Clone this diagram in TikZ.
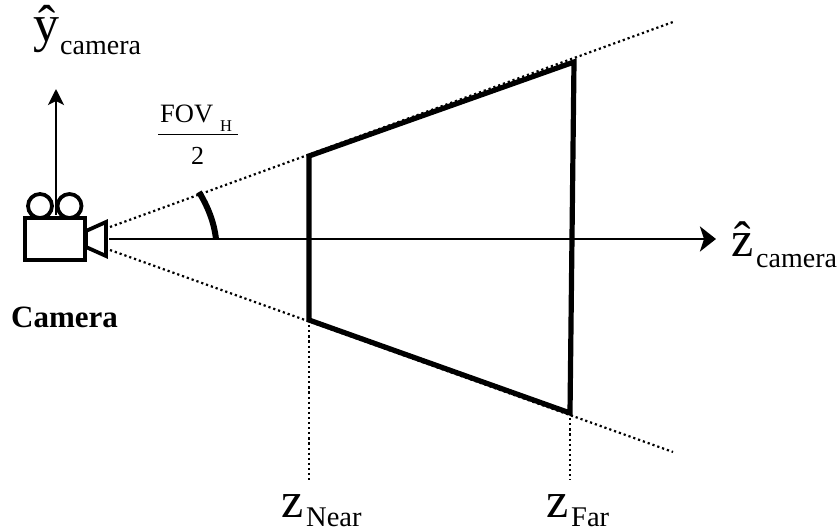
\documentclass[tikz,border=0pt]{standalone}
\usepackage{fontspec}
\setmainfont{Liberation Serif}
\usetikzlibrary{arrows.meta}
\tikzset{
  outline/.style={draw=black,line width=3.8pt},
  frustum/.style={draw=black,line width=5.2pt,line join=miter},
  ray/.style={draw=black,line width=2.2pt,dash pattern=on 2.2pt off 2.9pt},
  axisy/.style={draw=black,line width=2.8pt,-{Stealth[length=16pt,width=16pt,inset=4pt]}},
  axisz/.style={draw=black,line width=2.8pt,-{Stealth[length=16pt,width=25pt,inset=4pt]}},
  lbl/.style={inner sep=0pt,text=black,anchor=base west},
}
\begin{document}
\begin{tikzpicture}[x=1pt,y=-1pt]
\useasboundingbox (0,0) rectangle (839,532);
% camera
\node[outline,circle,minimum size=24pt,inner sep=0pt] (reelA) at (40,206) {};
\node[outline,circle,minimum size=24pt,inner sep=0pt] (reelB) at (69.5,206) {};
\node[outline,minimum width=60pt,minimum height=42pt,inner sep=0pt] (body) at (55,239) {};
\draw[outline,line join=miter] (86,231) -- (106,222) -- (106,256) -- (86,247) -- cycle;
% named points
\coordinate (yStart) at (56,215);
\coordinate (yEnd) at (56,89);
\coordinate (zStart) at (109,239);
\coordinate (zEnd) at (716,239);
\coordinate (nt) at (309,156);
\coordinate (nb) at (309,320);
\coordinate (ft) at (574,62);
\coordinate (fb) at (570,413);
\coordinate (upA) at (110,227);
\coordinate (upB) at (673,22);
\coordinate (loA) at (110,250);
\coordinate (loB) at (673,452);
\coordinate (nd) at (309,480);
\coordinate (fd) at (570,480);
% rays
\draw[ray] (upA) -- (upB);
\draw[ray] (loA) -- (loB);
\draw[ray] (nb) -- (nd);
\draw[ray] (fb) -- (fd);
% axes
\draw[axisy] (yStart) -- (yEnd);
\draw[axisz] (zStart) -- (zEnd);
% frustum
\draw[frustum] (nt) -- (ft) -- (fb) -- (nb) -- cycle;
% angle
\draw[line width=6pt] (199,192) .. controls (208,207) and (214,222) .. (216,239);
% labels
\node[lbl,font=\fontsize{52}{52}\selectfont] (yhat) at (33,42) {ŷ};
\node[lbl,font=\fontsize{28}{28}\selectfont] (ysub) at (60,55) {camera};
\node[lbl,font=\fontsize{50}{50}\selectfont] (zhat) at (731,256) {ẑ};
\node[lbl,font=\fontsize{28}{28}\selectfont] (zsub) at (756,267) {camera};
\node[lbl,font=\bfseries\fontsize{31}{31}\selectfont] (cam) at (11,327) {Camera};
\node[lbl,font=\fontsize{26.5}{26.5}\selectfont] (fov) at (160,123) {FOV};
\node[lbl,font=\fontsize{16.5}{16.5}\selectfont] (fovsub) at (220,131.5) {H};
\draw[line width=1.2pt] (158,134.5) -- (238,134.5);
\node[lbl,font=\fontsize{26}{26}\selectfont] (two) at (191,165) {2};
\node[lbl,font=\fontsize{50}{50}\selectfont] (zn) at (281,517) {z};
\node[lbl,font=\fontsize{28.5}{28.5}\selectfont] (nsub) at (306,526.5) {Near};
\node[lbl,font=\fontsize{50}{50}\selectfont] (zf) at (546,517) {z};
\node[lbl,font=\fontsize{28.5}{28.5}\selectfont] (fsub) at (571,526.5) {Far};
\end{tikzpicture}
\end{document}
